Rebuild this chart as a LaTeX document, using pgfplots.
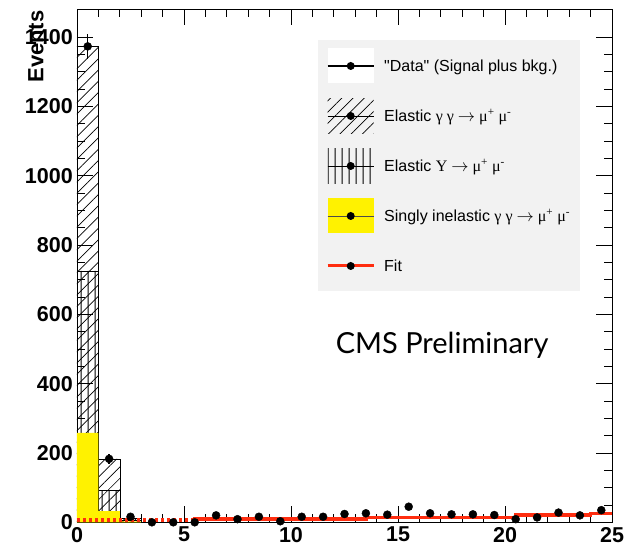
\documentclass[border=0pt]{standalone}
\usepackage{fontspec}
\setmainfont{Liberation Sans}
\newfontfamily\cmsfont{Lato}
\newfontfamily\symfont{Liberation Serif}
\usepackage{pgfplots}
\pgfplotsset{compat=1.18}
\usetikzlibrary{patterns,patterns.meta}

\definecolor{fitred}{RGB}{255,45,15}
\definecolor{legbg}{RGB}{242,242,242}

% vertical hatching with a solid tile
\pgfdeclarepatternformonly{vhatch}{\pgfpointorigin}{\pgfpoint{6.5pt}{6.5pt}}{\pgfpoint{6.5pt}{6.5pt}}{%
  \pgfsetlinewidth{1pt}%
  \pgfpathmoveto{\pgfpoint{3.25pt}{-1pt}}%
  \pgfpathlineto{\pgfpoint{3.25pt}{7.5pt}}%
  \pgfusepath{stroke}}

% hatch styles
\tikzset{
  diaghatch/.style={pattern={Lines[angle=45,distance=8pt,line width=0.7pt]}},
  verthatch/.style={pattern=vhatch},
}
\newcommand{\gmm}{{\symfont γ γ $\rightarrow$ μ\textsuperscript{+} μ\textsuperscript{-}}}
\newcommand{\umm}{{\symfont Υ $\rightarrow$ μ\textsuperscript{+} μ\textsuperscript{-}}}

\begin{document}
\begin{tikzpicture}
\begin{axis}[
  at={(0pt,0pt)}, anchor=south west,
  scale only axis, width=535pt, height=513pt,
  xmin=0, xmax=25, ymin=0, ymax=1480,
  clip=false,
  axis line style={line width=0.8pt},
  xtick={0,5,...,25}, minor x tick num=4,
  ytick={0,200,...,1400}, minor y tick num=3,
  tick align=inside,
  major tick length=16pt, minor tick length=8pt,
  every tick/.style={line width=0.7pt, black},
  /pgf/number format/assume math mode=true,
  /pgf/number format/1000 sep={},
  ticklabel style={font=\fontsize{21.5}{24}\selectfont\bfseries},
  xticklabel style={inner sep=0pt, yshift=-4.5pt},
  yticklabel style={inner sep=0pt, xshift=-4pt},
  legend style={
    at={(rel axis cs:0.4505,0.9396)}, anchor=north west,
    draw=none, fill=legbg,
    inner xsep=8pt, inner ysep=8pt,
    row sep=15pt, column sep=7pt,
    font=\fontsize{16}{18}\selectfont,
    cells={anchor=west},
  },
]

% legend entries
\addlegendimage{draw=none, legend image code/.code={
  \path[draw=none, fill=white] (0pt,-17.5pt) rectangle (46pt,17.5pt);
  \path[draw=black, line width=2.5pt] (0pt,0pt) -- (46pt,0pt);
  \path[draw=none, fill=black] (23pt,0pt) circle (4pt);
}}
\addlegendentry{\textquotedbl Data\textquotedbl\ (Signal plus bkg.)}
\addlegendimage{draw=none, legend image code/.code={
  \path[draw=none, diaghatch] (0pt,-17.5pt) rectangle (46pt,17.5pt);
  \path[draw=black, line width=0.6pt] (0pt,0pt) -- (46pt,0pt);
  \path[draw=none, fill=black] (23pt,0pt) circle (4pt);
}}
\addlegendentry{Elastic \gmm}
\addlegendimage{draw=none, legend image code/.code={
  \path[draw=none, verthatch] (0pt,-17.5pt) rectangle (46pt,17.5pt);
  \path[draw=black, line width=0.6pt] (0pt,0pt) -- (46pt,0pt);
  \path[draw=none, fill=black] (23pt,0pt) circle (4pt);
}}
\addlegendentry{Elastic \umm}
\addlegendimage{draw=none, legend image code/.code={
  \path[draw=none, fill=yellow] (0pt,-17.5pt) rectangle (46pt,17.5pt);
  \path[draw=black!70, line width=0.6pt] (0pt,0pt) -- (46pt,0pt);
  \path[draw=none, fill=black] (23pt,0pt) circle (4pt);
}}
\addlegendentry{Singly inelastic \gmm}
\addlegendimage{draw=none, legend image code/.code={
  \path[draw=none] (0pt,-17.5pt) rectangle (46pt,17.5pt);
  \path[draw=fitred, line width=3pt] (0pt,0pt) -- (46pt,0pt);
  \path[draw=none, fill=black] (23pt,0pt) circle (4pt);
}}
\addlegendentry{Fit}

% elastic gamma gamma -> mu mu (top of the stack)
\addplot[ybar interval, draw=black, line width=0.6pt, diaghatch, forget plot]
  coordinates {(0,1373) (1,183) (2,12) (3,0)};
% elastic Upsilon -> mu mu
\addplot[ybar interval, draw=black, line width=0.6pt, verthatch, forget plot]
  coordinates {(0,725) (1,93) (2,5) (3,0)};
% singly inelastic gamma gamma -> mu mu
\addplot[ybar interval, draw=none, fill=yellow, forget plot]
  coordinates {(0,258) (1,32) (2,3) (3,0)};

% fit
\addplot[fitred, line width=3.5pt, dash pattern=on 3pt off 3pt, forget plot]
  coordinates {(0,7) (5.4,7)};
\addplot[fitred, line width=3.5pt, const plot, forget plot]
  coordinates {(5.4,9) (13.5,14) (20.5,21) (24,26) (25,26)};

% data
\addplot[only marks, mark=*, mark size=4pt, black, forget plot,
  error bars/.cd, y dir=both, y explicit,
  error bar style={line width=1.5pt}, error mark=none]
  coordinates {
    (0.5,1373) +- (0,37)
    (1.5,183)  +- (0,14)
    (2.5,16)   +- (0,4)
    (3.5,0)    +- (0,0)
    (4.5,0)    +- (0,0)
    (5.5,0)    +- (0,0)
    (6.5,20)   +- (0,4)
    (7.5,9)    +- (0,3)
    (8.5,16)   +- (0,4)
    (9.5,3)    +- (0,2)
    (10.5,16)  +- (0,4)
    (11.5,16)  +- (0,4)
    (12.5,24)  +- (0,5)
    (13.5,26)  +- (0,5)
    (14.5,22)  +- (0,5)
    (15.5,45)  +- (0,7)
    (16.5,26)  +- (0,5)
    (17.5,23)  +- (0,5)
    (18.5,23)  +- (0,5)
    (19.5,21)  +- (0,5)
    (20.5,9)   +- (0,3)
    (21.5,14)  +- (0,4)
    (22.5,28)  +- (0,5)
    (23.5,20)  +- (0,4)
    (24.5,35)  +- (0,6)
  };

\node[anchor=base, inner sep=0pt] at (axis cs:17.06,488)
  {\cmsfont\fontsize{29}{32}\selectfont CMS Preliminary};
\end{axis}

\node[rotate=90, anchor=north east, inner sep=0pt] at (-49pt,512pt)
  {\fontsize{22}{24}\selectfont\bfseries Events};

\pgfresetboundingbox
\useasboundingbox (-77pt,-30.7pt) rectangle (554pt,522.3pt);
\end{tikzpicture}
\end{document}
